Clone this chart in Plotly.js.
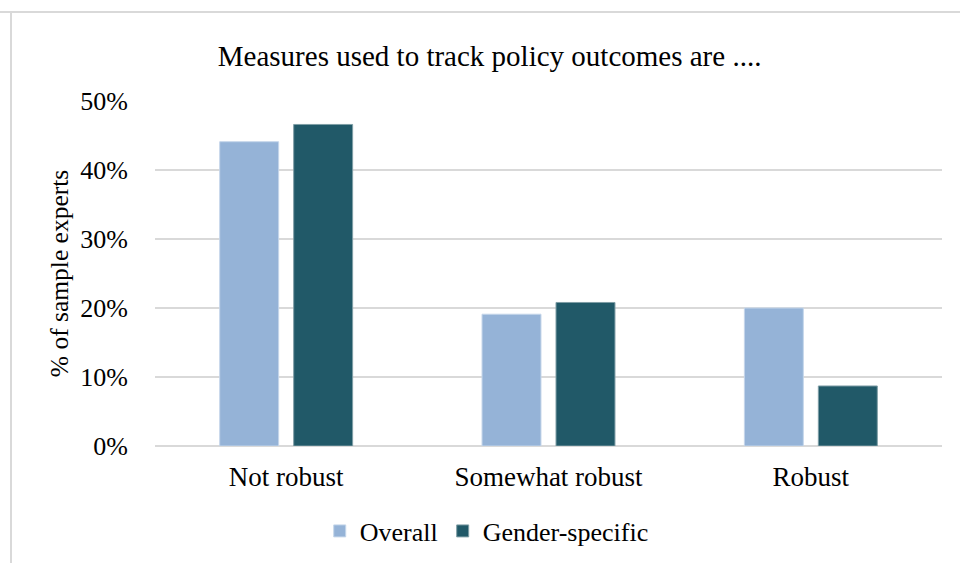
<!DOCTYPE html>
<html>
<head>
<meta charset="utf-8">
<script src="https://cdn.plot.ly/plotly-3.0.1.min.js"></script>
<style>html,body{margin:0;padding:0;background:#fff;}#chart{width:960px;height:563px;}</style>
</head>
<body>
<div id="chart"></div>
<script>
var categories = ["Not robust", "Somewhat robust", "Robust"];
var overallValues = [44.1, 19.1, 20.0];
var genderValues = [46.6, 20.8, 8.7];
var seriesNames = ["Overall", "Gender-specific"];
var yTicks = [0, 10, 20, 30, 40, 50];
var yTickLabels = ["0%", "10%", "20%", "30%", "40%", "50%"];

var font = "Liberation Serif, Times New Roman, serif";
var traces = [
  {type: "bar", name: seriesNames[0], x: categories, y: overallValues,
   marker: {color: "#95b3d7", line: {color: "#c5d6ea", width: 1}}, hoverinfo: "x+y"},
  {type: "bar", name: seriesNames[1], x: categories, y: genderValues,
   marker: {color: "#215968", line: {color: "#7f9ea6", width: 1}}, hoverinfo: "x+y"}
];
var layout = {
  width: 960, height: 563,
  margin: {l: 155, r: 18, t: 101, b: 117},
  paper_bgcolor: "#ffffff", plot_bgcolor: "#ffffff",
  font: {family: font, size: 24, color: "#000000"},
  title: {text: "Measures used to track policy outcomes are ....", font: {family: font, size: 29, color: "#000"},
          xref: "container", x: 0.51, xanchor: "center", yref: "container", y: 1 - 56/563, yanchor: "middle"},
  barmode: "group", bargap: 0.436, bargroupgap: 0.203,
  xaxis: {type: "category", showgrid: false, showline: false, zeroline: false, ticks: "",
          tickfont: {family: font, size: 27, color: "#000"}, ticklabelstandoff: 12},
  yaxis: {range: [0, 50], tickvals: yTicks, ticktext: yTickLabels, showgrid: true, gridcolor: "#d9d9d9", gridwidth: 1.5,
          zeroline: true, zerolinecolor: "#d9d9d9", zerolinewidth: 1.5, showline: false, ticks: "",
          tickfont: {family: font, size: 26, color: "#000"}, ticklabelstandoff: 26,
          title: {text: "% of sample experts", font: {family: font, size: 25.5, color: "#000"}, standoff: 4}},
  showlegend: true,
  legend: {orientation: "h", xref: "container", yref: "container", x: 0.507, xanchor: "center", y: 1 - 531/563, yanchor: "middle",
           font: {family: font, size: 26, color: "#000"}, itemwidth: 30, traceorder: "normal"},
  shapes: [
    {type: "line", xref: "paper", yref: "paper", x0: -155/787, x1: 1 + 30/787, y0: 1 + 89/345, y1: 1 + 89/345,
     line: {color: "#d9d9d9", width: 2}},
    {type: "line", xref: "paper", yref: "paper", x0: -144/787, x1: -144/787, y0: 1 + 89/345, y1: -130/345,
     line: {color: "#d9d9d9", width: 2}}
  ]
};
Plotly.newPlot("chart", traces, layout, {displayModeBar: false, staticPlot: true});
</script>
</body>
</html>
